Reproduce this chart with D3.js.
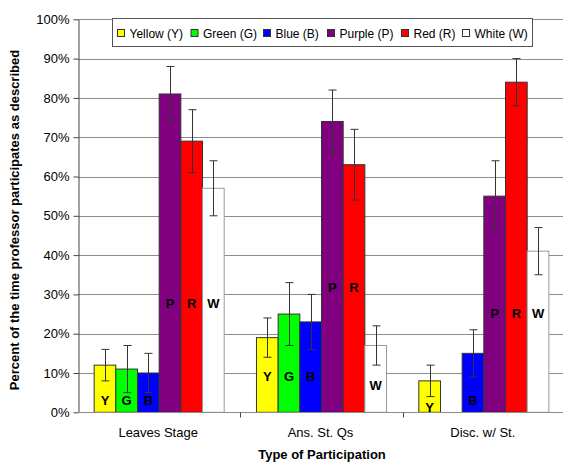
<!DOCTYPE html>
<html>
<head>
<meta charset="utf-8">
<script src="https://cdn.jsdelivr.net/npm/d3@7"></script>
<style>
  html, body { margin: 0; padding: 0; background: #fff; }
  svg { display: block; font-family: "Liberation Sans", Arial, sans-serif; }
</style>
</head>
<body>
<svg id="chart" width="563" height="464"></svg>
<script>
// ---- data ----
const categories = ["Leaves Stage", "Ans. St. Qs", "Disc. w/ St."];
const seriesNames = ["Yellow (Y)", "Green (G)", "Blue (B)", "Purple (P)", "Red (R)", "White (W)"];
const seriesLetters = ["Y", "G", "B", "P", "R", "W"];
const seriesColors = ["#ffff00", "#00ff00", "#0000ff", "#800080", "#ff0000", "#ffffff"];
// values in percent, per series, per category
const yellowVals = [12, 19, 8];
const greenVals  = [11, 25, null];
const blueVals   = [10, 23, 15];
const purpleVals = [81, 74, 55];
const redVals    = [69, 63, 84];
const whiteVals  = [57, 17, 41];
// error (+/-) in percent
const yellowErr = [4, 5, 4];
const greenErr  = [6, 8, null];
const blueErr   = [5, 7, 6];
const purpleErr = [7, 8, 9];
const redErr    = [8, 9, 6];
const whiteErr  = [7, 5, 6];
// height (percent) where each letter label sits
const yellowLbl = [3, 9.2, 1.3];
const greenLbl  = [3, 9.2, null];
const blueLbl   = [3, 9.2, 3];
const purpleLbl = [27.7, 31.8, 25.2];
const redLbl    = [27.7, 31.8, 25.2];
const whiteLbl  = [27.7, 6.9, 25.2];
const yTicks = [0, 10, 20, 30, 40, 50, 60, 70, 80, 90, 100];

const values = [yellowVals, greenVals, blueVals, purpleVals, redVals, whiteVals];
const errors = [yellowErr, greenErr, blueErr, purpleErr, redErr, whiteErr];
const labels = [yellowLbl, greenLbl, blueLbl, purpleLbl, redLbl, whiteLbl];

// ---- layout ----
const pLeft = 78, pRight = 565, pTop = 19.3, pBottom = 412.3;
const svg = d3.select("#chart");

const x0 = d3.scaleBand().domain(categories).range([pLeft, pRight]).paddingInner(0).paddingOuter(0);
const x1 = d3.scaleBand().domain(d3.range(seriesNames.length))
  .range([0, x0.bandwidth()]).paddingOuter(0.745).paddingInner(0);
const y = d3.scaleLinear().domain([0, 100]).range([pBottom, pTop]);

// gridlines
svg.append("g").selectAll("line").data(yTicks.filter(t => t > 0)).join("line")
  .attr("x1", pLeft).attr("x2", pRight)
  .attr("y1", d => Math.round(y(d)) + 0.5).attr("y2", d => Math.round(y(d)) + 0.5)
  .attr("stroke", "#8c8c8c").attr("stroke-width", 1);

// bars
const rows = [];
categories.forEach((c, ci) => {
  values.forEach((vals, si) => {
    if (vals[ci] != null) rows.push({c, si, v: vals[ci], e: errors[si][ci], l: labels[si][ci]});
  });
});

const gBars = svg.append("g");
gBars.selectAll("rect").data(rows).join("rect")
  .attr("x", d => x0(d.c) + x1(d.si))
  .attr("y", d => y(d.v))
  .attr("width", x1.bandwidth())
  .attr("height", d => y(0) - y(d.v))
  .attr("fill", d => seriesColors[d.si])
  .attr("stroke", d => d.si === 5 ? "#9a9a9a" : "#333")
  .attr("stroke-width", 1);

// letter labels
gBars.selectAll("text").data(rows).join("text")
  .attr("x", d => x0(d.c) + x1(d.si) + x1.bandwidth() / 2)
  .attr("y", d => y(d.l) + 4.5)
  .attr("text-anchor", "middle")
  .attr("font-size", 13).attr("font-weight", "bold")
  .attr("fill", "#000")
  .text(d => seriesLetters[d.si]);

// error bars
const gErr = svg.append("g").attr("stroke", "#333").attr("stroke-width", 1);
rows.forEach(d => {
  const cx = Math.round(x0(d.c) + x1(d.si) + x1.bandwidth() / 2) + 0.5;
  const yt = y(Math.min(d.v + d.e, 100)), yb = y(d.v - d.e);
  gErr.append("line").attr("x1", cx).attr("x2", cx).attr("y1", yt).attr("y2", yb);
  gErr.append("line").attr("x1", cx - 4).attr("x2", cx + 4).attr("y1", yt).attr("y2", yt);
  gErr.append("line").attr("x1", cx - 4).attr("x2", cx + 4).attr("y1", yb).attr("y2", yb);
});

// y axis
const yAxis = d3.axisLeft(y).tickValues(yTicks).tickSize(5).tickSizeOuter(0).tickFormat(d => d + "%");
const gy = svg.append("g").attr("transform", `translate(${pLeft + 0.5},0)`).call(yAxis);
gy.select(".domain").attr("stroke", "#444");
gy.selectAll(".tick line").attr("stroke", "#444");
gy.selectAll(".tick text").attr("font-size", 13).attr("font-family", "Liberation Sans, Arial, sans-serif")
  .attr("fill", "#000").attr("x", -9);

// x axis
const gx = svg.append("g").attr("transform", `translate(0,${Math.round(pBottom) + 0.5})`);
gx.append("line").attr("x1", pLeft).attr("x2", pRight).attr("stroke", "#8c8c8c");
gx.selectAll("line.tk").data(categories.slice(1)).join("line").attr("class", "tk")
  .attr("x1", d => Math.round(x0(d)) + 0.5).attr("x2", d => Math.round(x0(d)) + 0.5)
  .attr("y1", 0).attr("y2", 5).attr("stroke", "#444");
gx.selectAll("text").data(categories).join("text")
  .attr("x", d => x0(d) + x0.bandwidth() / 2 - 1)
  .attr("y", 24.5)
  .attr("text-anchor", "middle").attr("font-size", 13).attr("fill", "#000")
  .text(d => d);

// axis titles
svg.append("text").attr("x", 322).attr("y", 459)
  .attr("text-anchor", "middle").attr("font-size", 13).attr("font-weight", "bold")
  .text("Type of Participation");
svg.append("text").attr("transform", "translate(19,220) rotate(-90)")
  .attr("text-anchor", "middle").attr("font-size", 13).attr("font-weight", "bold")
  .text("Percent of the time professor participates as described");

// legend
const legendX = [117, 190.5, 263, 327, 401, 462];
const lg = svg.append("g");
lg.append("rect").attr("x", 112.5).attr("y", 18.5).attr("width", 420).attr("height", 28)
  .attr("fill", "#fff").attr("stroke", "#555");
seriesNames.forEach((n, i) => {
  lg.append("rect").attr("x", legendX[i] + 0.5).attr("y", 29.5).attr("width", 7).attr("height", 7)
    .attr("fill", seriesColors[i]).attr("stroke", "#333");
  lg.append("text").attr("x", legendX[i] + 12.5).attr("y", 37.5)
    .attr("font-size", 12).attr("fill", "#000").text(n);
});
</script>
</body>
</html>
